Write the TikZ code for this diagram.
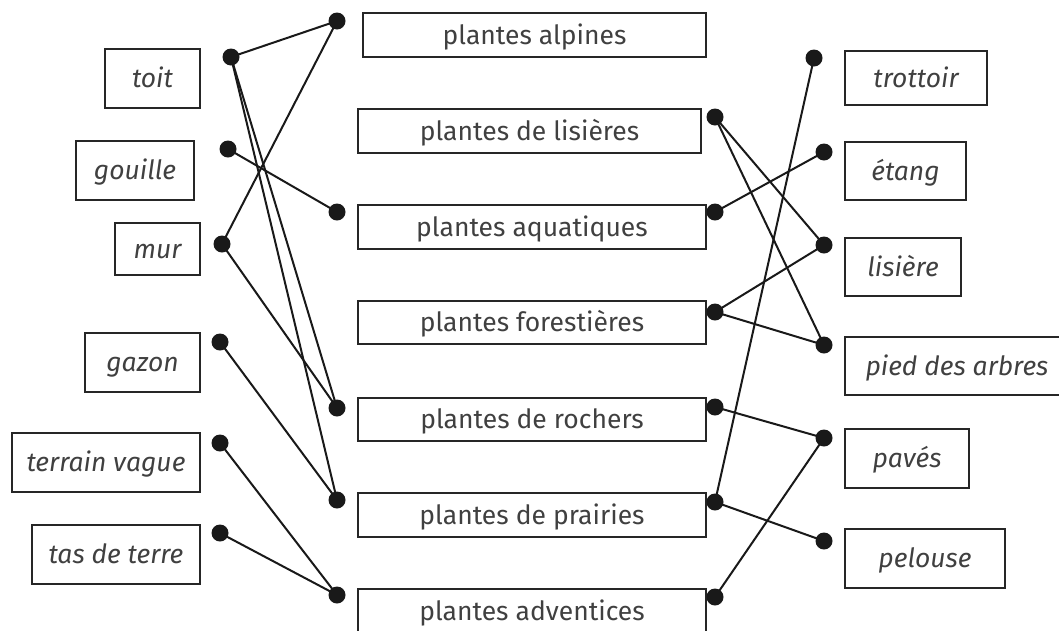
\documentclass[tikz,border=0pt]{standalone}
\usepackage{fontspec}
\setmainfont{Fira Sans}
\tikzset{
  habitat/.style={draw=black!85, line width=2pt, inner sep=0pt, anchor=north west,
    text=black!75, text height=18pt, text depth=0pt,
    font=\fontsize{26.5}{31}\selectfont\itshape},
  groupe/.style={habitat, font=\fontsize{26.5}{31}\selectfont},
  dot/.style={circle, fill=black!90, inner sep=0pt, minimum size=17pt},
  link/.style={line width=2pt, black!90}
}
\begin{document}
\begin{tikzpicture}[x=1pt, y=-1pt]
        \clip (0,0) rectangle (1059,630);
        % habitats a gauche
        \node [habitat, minimum width=95, minimum height=59] (toit) at (104,48) {toit};
        \node [habitat, minimum width=118, minimum height=59] (gouille) at (75,140) {gouille};
        \node [habitat, minimum width=85, minimum height=52] (mur) at (114,222) {mur};
        \node [habitat, minimum width=115, minimum height=59] (gazon) at (84,332) {gazon};
        \node [habitat, minimum width=188, minimum height=59] (terrain) at (11,432) {terrain vague};
        \node [habitat, minimum width=168, minimum height=59] (tas) at (31,524) {tas de terre};
        % groupes de plantes
        \node [groupe, minimum width=343, minimum height=44] (alpines) at (362,12) {plantes alpines};
        \node [groupe, minimum width=343, minimum height=44] (lisieres) at (357,108) {plantes de lisières};
        \node [groupe, minimum width=348, minimum height=44] (aquatiques) at (357,204) {plantes aquatiques};
        \node [groupe, minimum width=348, minimum height=43] (forestieres) at (357,300) {plantes forestières};
        \node [groupe, minimum width=348, minimum height=43] (rochers) at (357,397) {plantes de rochers};
        \node [groupe, minimum width=348, minimum height=44] (prairies) at (357,492) {plantes de prairies};
        \node [groupe, minimum width=348, minimum height=44] (adventices) at (357,588) {plantes adventices};
        % habitats a droite
        \node [habitat, minimum width=142, minimum height=54] (trottoir) at (844,50) {trottoir};
        \node [habitat, minimum width=121, minimum height=58] (etang) at (844,141) {étang};
        \node [habitat, minimum width=116, minimum height=58] (lisiere) at (844,237) {lisière};
        \node [habitat, minimum width=224, minimum height=58] (pied) at (844,336) {pied des arbres};
        \node [habitat, minimum width=124, minimum height=59] (paves) at (844,428) {pavés};
        \node [habitat, minimum width=160, minimum height=59] (pelouse) at (844,528) {pelouse};
        % points
        \node [dot] (toit-d) at (231,57) {};
        \node [dot] (gouille-d) at (228,149) {};
        \node [dot] (mur-d) at (222,244) {};
        \node [dot] (gazon-d) at (220,342) {};
        \node [dot] (terrain-d) at (220,443) {};
        \node [dot] (tas-d) at (220,533) {};
        \node [dot] (alpines-g) at (337,21) {};
        \node [dot] (aquatiques-g) at (337,212) {};
        \node [dot] (rochers-g) at (337,408) {};
        \node [dot] (prairies-g) at (337,500) {};
        \node [dot] (adventices-g) at (337,595) {};
        \node [dot] (lisieres-d) at (715,117) {};
        \node [dot] (aquatiques-d) at (715,212) {};
        \node [dot] (forestieres-d) at (715,312) {};
        \node [dot] (rochers-d) at (715,407) {};
        \node [dot] (prairies-d) at (715,502) {};
        \node [dot] (adventices-d) at (715,597) {};
        \node [dot] (trottoir-d) at (814,58) {};
        \node [dot] (etang-d) at (824,152) {};
        \node [dot] (lisiere-d) at (824,245) {};
        \node [dot] (pied-d) at (824,345) {};
        \node [dot] (paves-d) at (824,438) {};
        \node [dot] (pelouse-d) at (824,541) {};
        % liaisons
        \draw [link] (toit-d.center) -- (alpines-g.center);
        \draw [link] (toit-d.center) -- (rochers-g.center);
        \draw [link] (toit-d.center) -- (prairies-g.center);
        \draw [link] (gouille-d.center) -- (aquatiques-g.center);
        \draw [link] (mur-d.center) -- (alpines-g.center);
        \draw [link] (mur-d.center) -- (rochers-g.center);
        \draw [link] (gazon-d.center) -- (prairies-g.center);
        \draw [link] (terrain-d.center) -- (adventices-g.center);
        \draw [link] (tas-d.center) -- (adventices-g.center);
        \draw [link] (lisieres-d.center) -- (lisiere-d.center);
        \draw [link] (lisieres-d.center) -- (pied-d.center);
        \draw [link] (aquatiques-d.center) -- (etang-d.center);
        \draw [link] (forestieres-d.center) -- (lisiere-d.center);
        \draw [link] (forestieres-d.center) -- (pied-d.center);
        \draw [link] (rochers-d.center) -- (paves-d.center);
        \draw [link] (prairies-d.center) -- (trottoir-d.center);
        \draw [link] (prairies-d.center) -- (pelouse-d.center);
        \draw [link] (adventices-d.center) -- (paves-d.center);
\end{tikzpicture}
\end{document}
